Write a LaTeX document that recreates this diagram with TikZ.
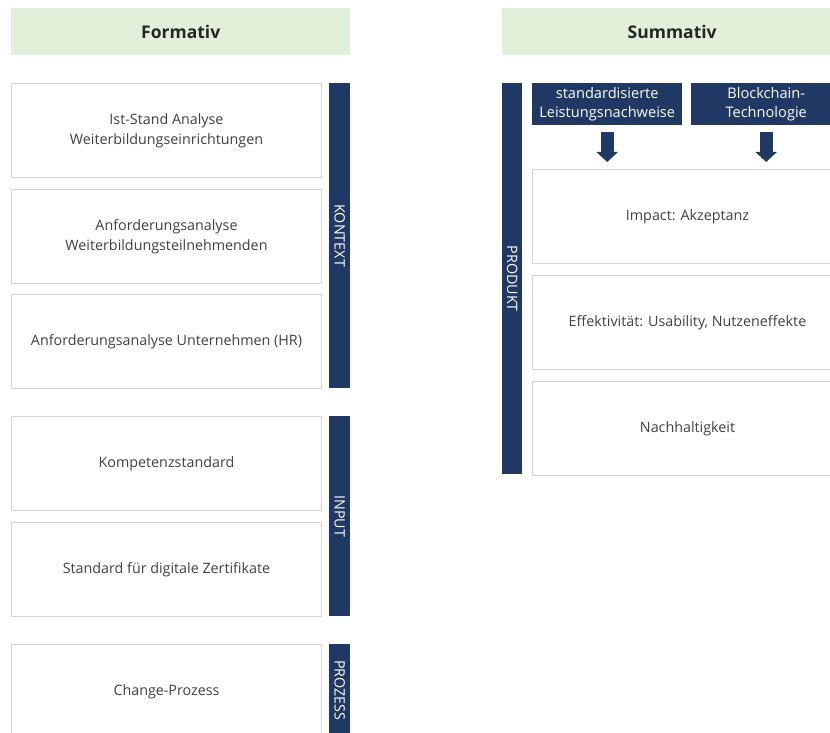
\documentclass[tikz,border=0pt]{standalone}
\usepackage{fontspec}
\setmainfont{Open Sans}
\usetikzlibrary{arrows.meta}
\definecolor{navy}{HTML}{1F3864}
\definecolor{headgreen}{HTML}{E2EFD9}
\definecolor{boxline}{HTML}{D4D4D4}
\definecolor{txt}{HTML}{404040}
\tikzset{
  head/.style={fill=headgreen, draw=none, minimum height=47pt, anchor=north west, inner sep=0pt,
    font=\fontsize{17.5}{20}\selectfont\bfseries, text=black!85},
  box/.style={draw=boxline, line width=1pt, fill=white, minimum width=310pt, minimum height=94pt,
    anchor=north west, inner sep=0pt, align=center, text=txt, font=\fontsize{14.3}{20}\selectfont},
  bar/.style={fill=navy, draw=none, minimum width=21pt, anchor=north west, inner sep=0pt},
  bartext/.style={text=white, rotate=-90, font=\fontsize{14.3}{16}\selectfont},
  tag/.style={fill=navy, draw=none, minimum width=150pt, minimum height=42pt, anchor=north west,
    inner sep=0pt, align=center, text=white, font=\fontsize{14.6}{19}\selectfont},
  bigarrow/.style={navy, line width=13pt, -{Triangle[width=21pt,length=10pt]}, shorten <=7pt, shorten >=7pt}
}
\begin{document}
\begin{tikzpicture}[x=1pt,y=-1pt]
\useasboundingbox (0,0) rectangle (830,733);
% headers
\node[head, minimum width=339pt] (hf) at (11,8) {Formativ};
\node[head, minimum width=340pt] (hs) at (502,8) {Summativ};
% left boxes
\node[box] (b1) at (11,83) {Ist-Stand Analyse\\Weiterbildungseinrichtungen};
\node[box] (b2) at (11,189) {Anforderungsanalyse\\Weiterbildungsteilnehmenden};
\node[box] (b3) at (11,294) {Anforderungsanalyse Unternehmen (HR)};
\node[box] (b4) at (11,416) {Kompetenzstandard};
\node[box] (b5) at (11,522) {Standard für digitale Zertifikate};
\node[box] (b6) at (11,644) {Change-Prozess};
% left bars
\node[bar, minimum height=305pt] (kontext) at (329,83) {};
\node[bartext] at (kontext.center) {KONTEXT};
\node[bar, minimum height=200pt] (input) at (329,416) {};
\node[bartext] at (input.center) {INPUT};
\node[bar, minimum height=92pt] (prozess) at (329,644) {};
\node[bartext] at (prozess.center) {PROZESS};
% right side
\node[bar, minimum width=20pt, minimum height=391pt] (produkt) at (502,83) {};
\node[bartext] at (produkt.center) {PRODUKT};
\node[tag] (t1) at (532,83) {standardisierte\\Leistungsnachweise};
\node[tag] (t2) at (691,83) {Blockchain-\\Technologie};
\node[box] (ra) at (532,169) {Impact: Akzeptanz};
\node[box] (rb) at (532,275) {Effektivität: Usability, Nutzeneffekte};
\node[box] (rc) at (532,381) {Nachhaltigkeit};
\draw[bigarrow] (t1.south) -- (t1.south |- ra.north);
\draw[bigarrow] (t2.south) -- (t2.south |- ra.north);
\end{tikzpicture}
\end{document}
